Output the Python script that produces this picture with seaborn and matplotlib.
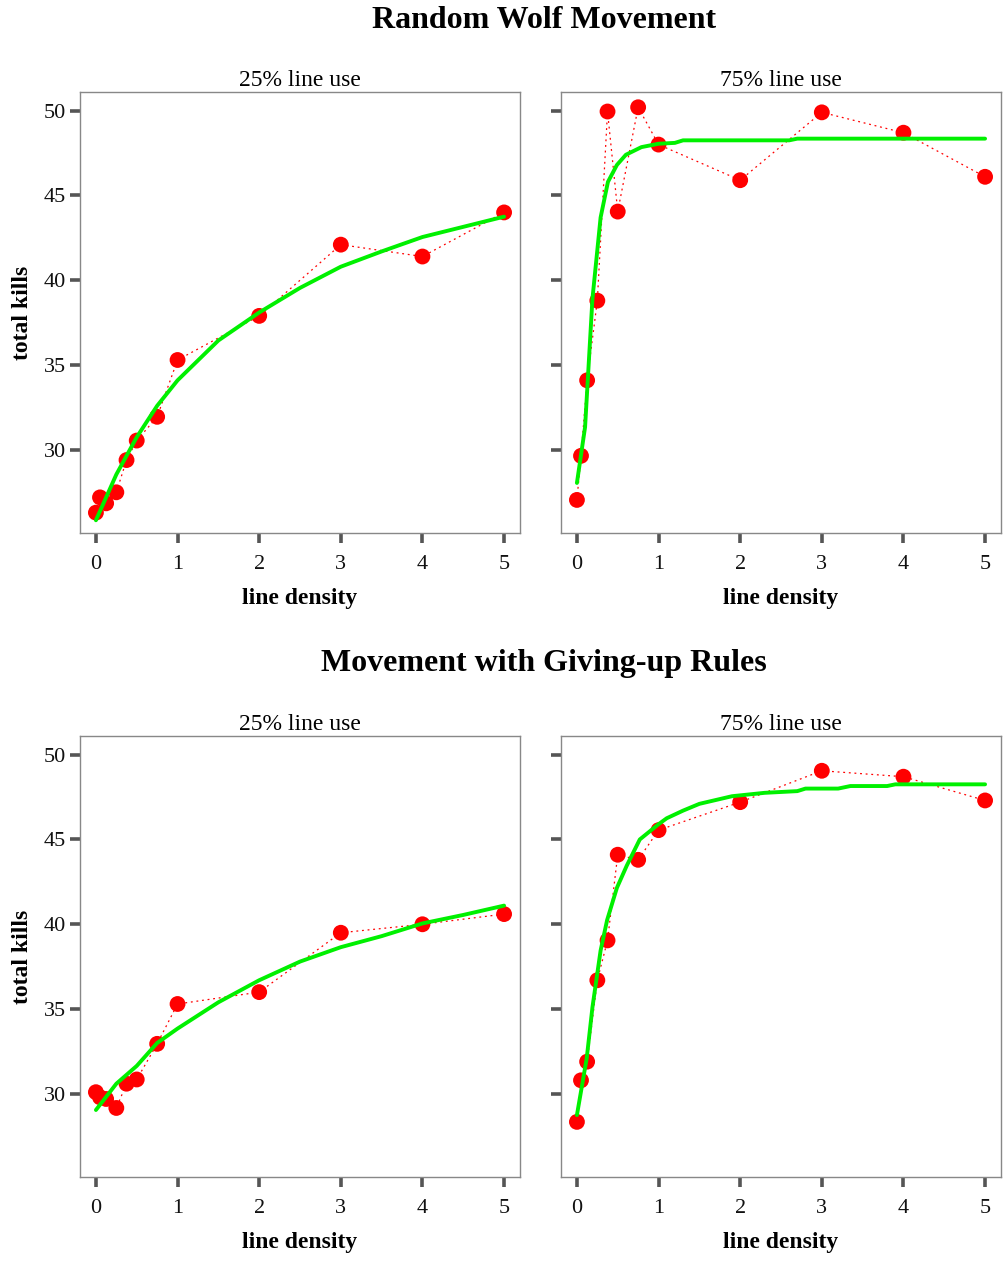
import matplotlib
matplotlib.use("Agg")
import matplotlib.pyplot as plt
import seaborn as sns
import pandas as pd

# line density values (x) shared by all four panels
density = [0, 0.05, 0.125, 0.25, 0.375, 0.5, 0.75, 1, 2, 3, 4, 5]

# observed total kills
random_25 = [26.3, 27.2, 26.85, 27.5, 29.4, 30.55, 31.95, 35.3, 37.9, 42.1, 41.4, 44.0]
random_75 = [27.05, 29.65, 34.1, 38.8, 49.95, 44.05, 50.2, 48.0, 45.9, 49.9, 48.7, 46.1]
giveup_25 = [30.1, 29.8, 29.7, 29.17, 30.6, 30.85, 32.95, 35.3, 36.0, 39.5, 40.0, 40.6]
giveup_75 = [28.35, 30.8, 31.9, 36.7, 39.05, 44.1, 43.8, 45.55, 47.2, 49.05, 48.7, 47.3]

# smoothed fits (green)
fit_x_25 = [0, 0.25, 0.5, 0.75, 1, 1.5, 2, 2.5, 3, 3.5, 4, 4.5, 5]
fit_random_25 = [25.85, 28.55, 30.75, 32.6, 34.1, 36.45, 38.1, 39.55, 40.8, 41.7, 42.55, 43.15, 43.75]
fit_giveup_25 = [29.05, 30.6, 31.65, 33.0, 33.85, 35.4, 36.7, 37.8, 38.65, 39.3, 40.05, 40.55, 41.1]

fit_x_r75 = [0, 0.1, 0.19, 0.29, 0.38, 0.49, 0.6, 0.79, 1.0, 1.2, 1.3, 2.6, 2.7, 5]
fit_random_75 = [28.05, 31.35, 38.9, 43.7, 45.8, 46.8, 47.4, 47.85, 48.05, 48.1, 48.25, 48.25, 48.35, 48.35]

fit_x_g75 = [0, 0.12, 0.19, 0.29, 0.37, 0.49, 0.61, 0.77, 1.0, 1.1, 1.3, 1.5, 1.9, 2.3, 2.7, 2.8, 3.2, 3.35, 3.8, 3.9, 5]
fit_giveup_75 = [28.75, 32.1, 35.1, 38.45, 40.25, 42.15, 43.45, 45.0, 45.9, 46.25, 46.7, 47.1, 47.55, 47.75, 47.85, 48.0, 48.0, 48.15, 48.15, 48.25, 48.25]

row_titles = ["Random Wolf Movement", "Movement with Giving-up Rules"]
col_titles = ["25% line use", "75% line use"]

sns.set_style("white")
plt.rcParams["font.family"] = ["Liberation Serif", "DejaVu Serif"]
plt.rcParams["text.color"] = "black"
plt.rcParams["axes.labelcolor"] = "black"

fig = plt.figure(figsize=(10.08, 12.62), dpi=100)

panels = [
    (random_25, fit_x_25, fit_random_25),
    (random_75, fit_x_r75, fit_random_75),
    (giveup_25, fit_x_25, fit_giveup_25),
    (giveup_75, fit_x_g75, fit_giveup_75),
]
lefts = [80 / 1008, 561 / 1008]
bottoms = [1 - 533 / 1262, 1 - 1177 / 1262]
w = 440 / 1008
h = 441 / 1262

for i, (obs, fx, fy) in enumerate(panels):
    r, c = divmod(i, 2)
    ax = fig.add_axes([lefts[c], bottoms[r], w, h])
    pts = pd.DataFrame({"x": density, "y": obs})
    fit = pd.DataFrame({"x": fx, "y": fy})
    sns.lineplot(data=pts, x="x", y="y", ax=ax, color="red", lw=0.9,
                 linestyle=(0, (1.5, 3)), sort=False, estimator=None)
    sns.scatterplot(data=pts, x="x", y="y", ax=ax, color="red", s=130,
                    edgecolor="none", zorder=3)
    sns.lineplot(data=fit, x="x", y="y", ax=ax, color="#00f000", lw=2.8,
                 sort=False, estimator=None, zorder=4)
    ax.set_xlim(-0.195, 5.195)
    ax.set_ylim(25.1, 51.1)
    ax.set_xticks([0, 1, 2, 3, 4, 5])
    ax.set_yticks([30, 35, 40, 45, 50])
    ax.tick_params(bottom=True, left=True, direction="out", length=7,
                   width=2.6, color="#555555", labelsize=16, pad=3,
                   labelcolor="#111111")
    ax.tick_params(axis="x", pad=9)
    for sp in ax.spines.values():
        sp.set_color("#888888")
        sp.set_linewidth(1)
    ax.set_title(col_titles[c], fontsize=17, pad=4.5)
    ax.set_xlabel("line density", fontsize=17, fontweight="bold", labelpad=10)
    if c == 0:
        ax.set_ylabel("total kills", fontsize=17, fontweight="bold", labelpad=8)
    else:
        ax.set_ylabel("")
        ax.set_yticklabels([])

fig.text(0.54, 1 - 20 / 1262, row_titles[0], ha="center", va="center",
         fontsize=23, fontweight="bold")
fig.text(0.54, 1 - 664 / 1262, row_titles[1], ha="center", va="center",
         fontsize=23, fontweight="bold")

fig.savefig("out.png", dpi=100)
